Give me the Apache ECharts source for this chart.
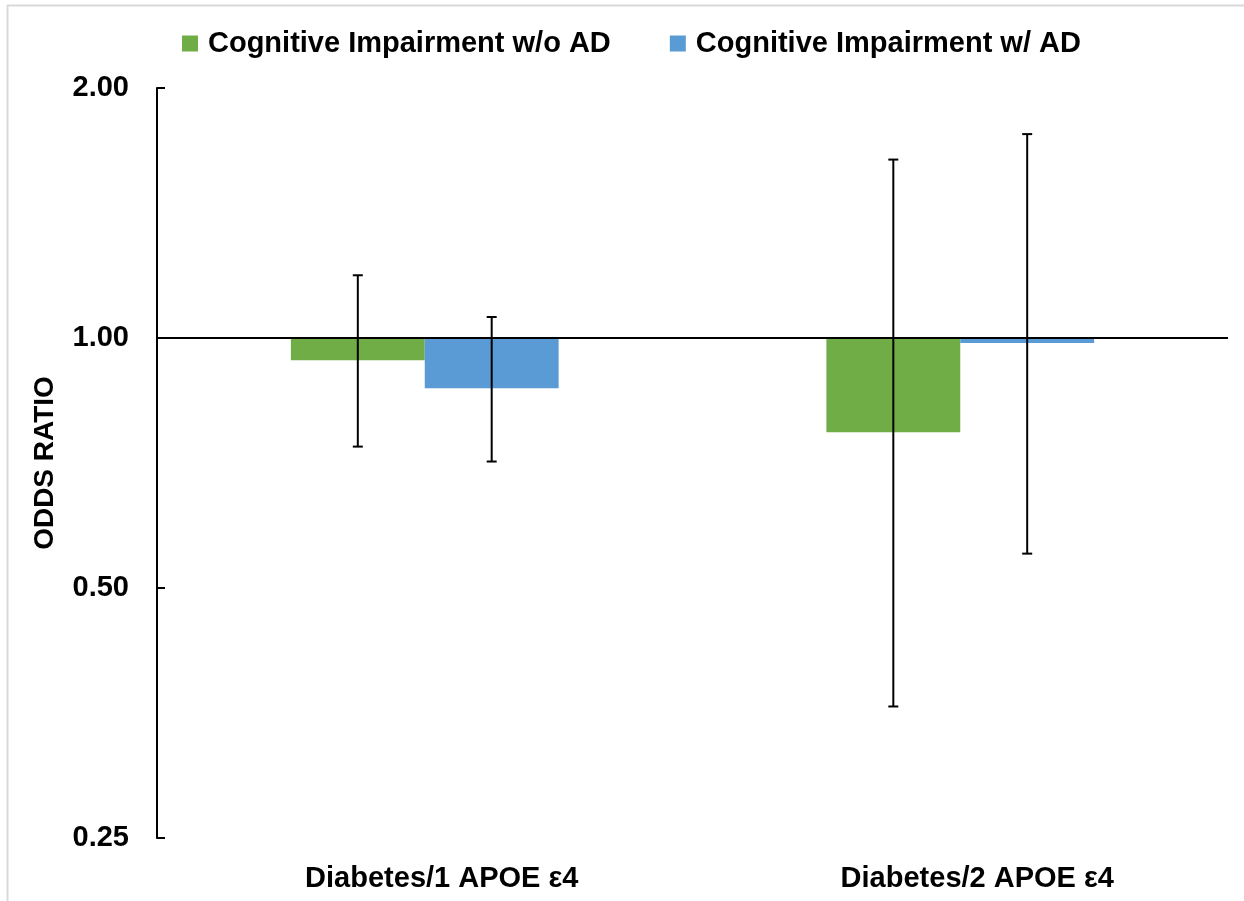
<!DOCTYPE html>
<html>
<head>
<meta charset="utf-8">
<script src="https://cdn.jsdelivr.net/npm/echarts@6/dist/echarts.min.js"></script>
<style>
  html, body { margin: 0; padding: 0; background: #fff; }
  #chart { width: 1244px; height: 901px; }
</style>
</head>
<body>
<div id="chart"></div>
<script>
// chart values
const categories = ['Diabetes/1 APOE \u03b54', 'Diabetes/2 APOE \u03b54'];
const seriesNames = ['Cognitive Impairment w/o AD', 'Cognitive Impairment w/ AD'];
const withoutAD = [0.94, 0.77];
const withoutADLow = [0.74, 0.36];
const withoutADHigh = [1.19, 1.64];
const withAD = [0.87, 0.986];
const withADLow = [0.71, 0.55];
const withADHigh = [1.06, 1.76];
const yTicks = [0.25, 0.5, 1, 2];

const FONT = "'Liberation Sans', Arial, sans-serif";
const GREEN = '#70AD47';
const BLUE = '#5B9BD5';

const chartDom = document.getElementById('chart');
const myChart = echarts.init(chartDom);

// error bar drawn as whisker with caps, shifted to sit over its own bar
function errorBarSeries(name, low, high, side) {
    return {
        name: name,
        type: 'custom',
        z: 10,
        silent: true,
        data: categories.map((c, i) => [i, low[i], high[i]]),
        renderItem: function (params, api) {
            const band = api.size([1, 1])[0];
            const shift = side * band * 0.125;
            const top = api.coord([api.value(0), api.value(2)]);
            const bot = api.coord([api.value(0), api.value(1)]);
            const x = top[0] + shift;
            const cap = 5;
            const style = { stroke: '#000', lineWidth: 2 };
            return {
                type: 'group',
                children: [
                    { type: 'line', shape: { x1: x, y1: top[1], x2: x, y2: bot[1] }, style: style },
                    { type: 'line', shape: { x1: x - cap, y1: top[1], x2: x + cap, y2: top[1] }, style: style },
                    { type: 'line', shape: { x1: x - cap, y1: bot[1], x2: x + cap, y2: bot[1] }, style: style }
                ]
            };
        }
    };
}

const option = {
    animation: false,
    textStyle: { fontFamily: FONT },
    graphic: [
        { type: 'line', shape: { x1: 7.5, y1: 5, x2: 7.5, y2: 901 }, style: { stroke: '#d9d9d9', lineWidth: 2 } },
        { type: 'line', shape: { x1: 7, y1: 5.5, x2: 1244, y2: 5.5 }, style: { stroke: '#d9d9d9', lineWidth: 2 } }
    ],
    legend: {
        data: seriesNames,
        left: 177,
        top: 24,
        icon: 'rect',
        itemWidth: 16,
        itemHeight: 16,
        itemGap: 59,
        textStyle: {
            fontFamily: FONT, fontWeight: 'bold', fontSize: 29, color: '#000',
            padding: [0, 0, 0, 5]
        }
    },
    grid: {
        left: 157,
        right: 16,
        top: 88,
        bottom: 63,
        containLabel: false
    },
    xAxis: {
        type: 'category',
        data: categories,
        axisLine: { show: false },
        axisTick: { show: false },
        axisLabel: {
            margin: 26,
            fontFamily: FONT,
            fontWeight: 'bold',
            fontSize: 29,
            color: '#000',
            padding: [0, 0, 0, 34]
        }
    },
    yAxis: {
        type: 'log',
        logBase: 2,
        min: yTicks[0],
        max: yTicks[yTicks.length - 1],
        name: 'ODDS RATIO',
        nameLocation: 'middle',
        nameRotate: 90,
        nameGap: 98,
        nameTextStyle: { fontFamily: FONT, fontWeight: 'bold', fontSize: 28, color: '#000' },
        axisLine: { show: true, lineStyle: { color: '#000', width: 2 } },
        axisTick: { show: true, inside: true, length: 8, lineStyle: { color: '#000', width: 2 } },
        splitLine: { show: false },
        axisLabel: {
            margin: 28,
            fontFamily: FONT,
            fontWeight: 'bold',
            fontSize: 29,
            color: '#000',
            formatter: v => v.toFixed(2)
        }
    },
    series: [
        {
            name: seriesNames[0],
            type: 'bar',
            barWidth: '25%',
            barGap: '0%',
            itemStyle: { color: GREEN },
            data: withoutAD,
            markLine: {
                silent: true,
                symbol: 'none',
                label: { show: false },
                lineStyle: { color: '#000', width: 2, type: 'solid' },
                data: [{ yAxis: 1 }]
            }
        },
        {
            name: seriesNames[1],
            type: 'bar',
            barWidth: '25%',
            barGap: '0%',
            itemStyle: { color: BLUE },
            data: withAD
        },
        errorBarSeries('err0', withoutADLow, withoutADHigh, -1),
        errorBarSeries('err1', withADLow, withADHigh, 1)
    ]
};

myChart.setOption(option);
</script>
</body>
</html>
